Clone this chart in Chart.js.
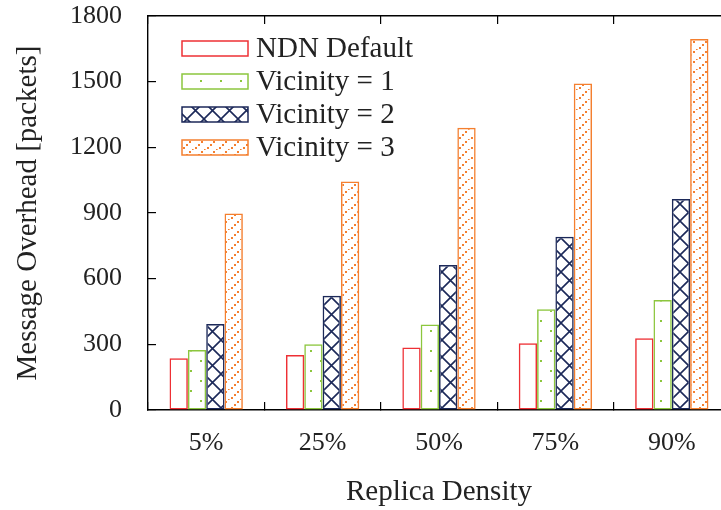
<!DOCTYPE html>
<html>
<head>
<meta charset="utf-8">
<script src="https://cdn.jsdelivr.net/npm/chart.js@4.4.1/dist/chart.umd.min.js"></script>
<style>
  html, body { margin: 0; padding: 0; background: #fff; overflow: hidden; }
  canvas { display: block; }
</style>
</head>
<body>
<canvas id="overheadChart" width="760" height="510"></canvas>
<script>
// replica density groups and message overhead per vicinity setting
const densities = ['5%', '25%', '50%', '75%', '90%'];
const ndnDefault = [236, 251, 285, 305, 328];
const vicinity1 = [274, 300, 391, 460, 502];
const vicinity2 = [393, 522, 662, 792, 964];
const vicinity3 = [898, 1044, 1290, 1492, 1695];
const yTicks = [0, 300, 600, 900, 1200, 1500, 1800];

const serif = '"Liberation Serif", "Times New Roman", serif';
const textColor = '#222';

const canvas = document.getElementById('overheadChart');
const ctx = canvas.getContext('2d');

// small repeating fill for the hatched bars
function makePattern(w, h, draw) {
    const tile = document.createElement('canvas');
    tile.width = w;
    tile.height = h;
    draw(tile.getContext('2d'));
    return ctx.createPattern(tile, 'repeat');
}

const dotFill = makePattern(20, 20, c => {
    c.fillStyle = '#8cc63e';
    c.fillRect(0, 0, 2, 2);
    c.fillRect(10, 10, 2, 2);
});

const crossFill = makePattern(17, 17, c => {
    c.strokeStyle = '#1c2959';
    c.lineWidth = 1.6;
    c.beginPath();
    c.moveTo(0, 0); c.lineTo(17, 17);
    c.moveTo(17, 0); c.lineTo(0, 17);
    c.stroke();
});

// short "/" strokes made of dots
const slashFill = makePattern(12, 10, c => {
    c.fillStyle = '#f47f2f';
    for (let i = 0; i < 3; i++) {
        c.fillRect(3 + i * 3, 7 - i * 3, 2, 2);
    }
    c.fillRect(0, 9, 1.6, 1.6);
});

// legend drawn inside the plot, top left
const insideLegend = {
    id: 'insideLegend',
    afterDatasetsDraw(chart) {
        const { ctx, chartArea } = chart;
        ctx.save();
        chart.data.datasets.forEach((ds, i) => {
            const x = chartArea.left + 34;
            const y = chartArea.top + 32.5 + i * 33;
            ctx.fillStyle = '#fff';
            ctx.fillRect(x, y - 7.5, 66, 15);
            ctx.fillStyle = ds.backgroundColor;
            ctx.fillRect(x, y - 7.5, 66, 15);
            ctx.strokeStyle = ds.borderColor;
            ctx.lineWidth = 1.5;
            ctx.strokeRect(x, y - 7.5, 66, 15);
            ctx.fillStyle = textColor;
            ctx.font = '29px ' + serif;
            ctx.textBaseline = 'middle';
            ctx.fillText(ds.label, x + 74, y + 1);
        });
        ctx.restore();
    }
};

function barSet(label, data, border, fill) {
    return {
        label,
        data,
        borderColor: border,
        backgroundColor: fill,
        borderWidth: 1.5,
        borderSkipped: false,
        categoryPercentage: 0.63,
        barPercentage: 1.0,
    };
}

new Chart(ctx, {
    type: 'bar',
    data: {
        labels: densities,
        datasets: [
            barSet('NDN Default', ndnDefault, '#ee3035', 'rgba(255,255,255,0)'),
            barSet('Vicinity = 1', vicinity1, '#8cc63e', dotFill),
            barSet('Vicinity = 2', vicinity2, '#1c2959', crossFill),
            barSet('Vicinity = 3', vicinity3, '#f47f2f', slashFill),
        ],
    },
    options: {
        responsive: false,
        animation: false,
        layout: { padding: { left: 0, right: 30, top: 0, bottom: 0 } },
        plugins: {
            legend: { display: false },
            tooltip: { enabled: false },
        },
        scales: {
            x: {
                position: 'bottom',
                grid: { drawOnChartArea: false, tickLength: -8, color: '#000', lineWidth: 1.2 },
                border: { color: '#000', width: 1.4 },
                ticks: { color: textColor, font: { family: serif, size: 26 }, padding: 26 },
                title: {
                    display: true,
                    text: 'Replica Density',
                    color: textColor,
                    font: { family: serif, size: 29 },
                    padding: { top: 0, bottom: 0 },
                },
                afterFit(scale) { scale.height = 100; },
            },
            xTop: {
                position: 'top',
                labels: densities,
                grid: { drawOnChartArea: false, tickLength: -8, color: '#000', lineWidth: 1.2 },
                border: { color: '#000', width: 1.4 },
                ticks: { display: false },
                afterFit(scale) { scale.height = 16; },
            },
            y: {
                min: yTicks[0],
                max: yTicks[yTicks.length - 1],
                grid: { drawOnChartArea: false, tickLength: -8, color: '#000', lineWidth: 1.2 },
                border: { color: '#000', width: 1.4 },
                ticks: {
                    stepSize: yTicks[1] - yTicks[0],
                    callback: value => String(value),
                    color: textColor,
                    font: { family: serif, size: 26 },
                    padding: 34,
                },
                title: {
                    display: true,
                    text: 'Message Overhead [packets]',
                    color: textColor,
                    font: { family: serif, size: 29 },
                    padding: { top: 11, bottom: 0 },
                },
                afterFit(scale) {
                    scale.width = 148;
                    // the outer tick labels may sit at the canvas edge
                    scale.paddingTop = 0;
                    scale.paddingBottom = 0;
                },
            },
        },
    },
    plugins: [insideLegend],
});
</script>
</body>
</html>
